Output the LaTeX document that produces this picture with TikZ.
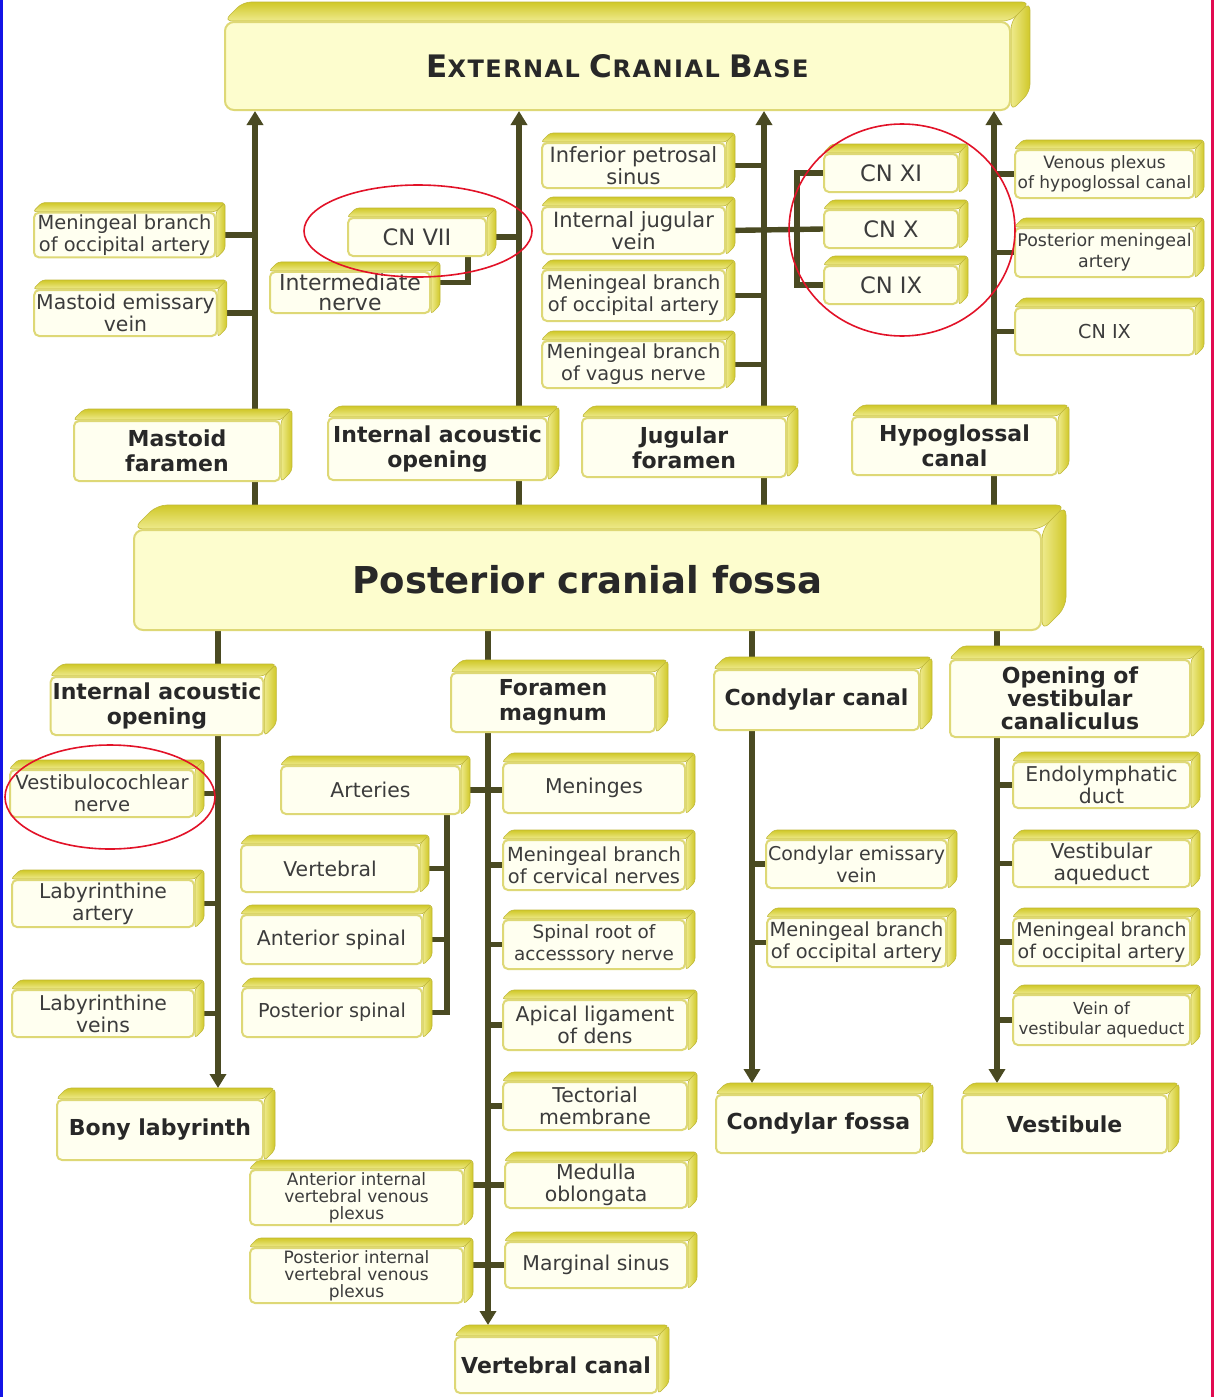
\documentclass[tikz,border=0pt]{standalone}
\usepackage{fontspec}
\setmainfont{DejaVu Sans}
\usetikzlibrary{arrows.meta,calc,shapes.geometric}
\definecolor{yelD}{RGB}{208,200,40}
\definecolor{yelL}{RGB}{238,234,140}
\definecolor{yelB}{RGB}{222,216,118}
\definecolor{yelE}{RGB}{192,184,56}
\definecolor{frontc}{RGB}{255,255,240}
\definecolor{frontb}{RGB}{253,253,206}
\definecolor{linec}{RGB}{74,74,34}
\definecolor{txt}{RGB}{60,60,60}
\definecolor{htxt}{RGB}{40,40,40}
\definecolor{ann}{RGB}{226,18,40}
\definecolor{edgeL}{RGB}{20,20,230}
\definecolor{edgeR}{RGB}{225,10,80}
\pgfdeclarelayer{back}\pgfdeclarelayer{bg}\pgfdeclarelayer{ext}\pgfdeclarelayer{fg}
\pgfsetlayers{back,bg,ext,main,fg}
\newcommand\fn{\fontsize{10.2}{11}\selectfont}
\newcommand\fmb{\fontsize{9.7}{11}\selectfont}
\newcommand\fsm{\fontsize{8.5}{10}\selectfont}
\newcommand\fcn{\fontsize{11.3}{13}\selectfont}
\newcommand\bigC[1]{{\fontsize{15.5}{18}\selectfont #1}}
\newcommand\smC[1]{{\fontsize{12}{14}\selectfont #1}}
\newcommand\extr[3]{%
  \shadedraw[top color=yelD, bottom color=yelL, draw=yelE, line width=0.3pt, rounded corners=#3]
    (#1.north west) -- ++(#2,-#2) -- ($(#1.north east)+(#2,-#2)$) -- (#1.north east) -- cycle;
  \shadedraw[left color=yelL, right color=yelD, draw=yelE, line width=0.3pt, rounded corners=#3]
    (#1.north east) -- ($(#1.north east)+(#2,-#2)$) -- ($(#1.south east)+(#2,-#2)$) -- (#1.south east) -- cycle;
}
\tikzset{
  fbox/.style={draw=yelB, line width=1pt, fill=frontc, rounded corners=2.5pt, inner sep=1pt,
    align=center, text=txt, font=\fn},
  hbox/.style={fbox, text=htxt, font=\bfseries\fontsize{11}{12.5}\selectfont},
  bigbox/.style={hbox, fill=frontb, rounded corners=4.5pt},
  bw/.style={minimum width=#1*0.5pt},
  bh/.style={minimum height=#1*0.5pt},
  conn/.style={draw=linec, line width=2.7pt},
  arr/.style={conn, -{Triangle[length=7pt,width=8pt]}},
  annell/.style={ellipse, draw=ann, line width=0.8pt, inner sep=0pt}
}
\begin{document}
\begin{tikzpicture}[x=0.5pt,y=-0.5pt]
\useasboundingbox (0,0) rectangle (1217,1397);
\begin{pgfonlayer}{back}
  \fill[white] (0,0) rectangle (1217,1397);
  \fill[edgeL] (0,0) rectangle (3,1397);
  \fill[edgeR] (1211,0) rectangle (1214,1397);
\end{pgfonlayer}

% main boxes
\node[bigbox, bw=785, bh=88] (ecb) at (617.5,66)
  {\addfontfeatures{LetterSpace=6}\bigC{E}\smC{XTERNAL}\hspace{0.45em}\bigC{C}\smC{RANIAL}\hspace{0.45em}\bigC{B}\smC{ASE}};
\node[bigbox, bw=907, bh=100, font=\bfseries\fontsize{18.5}{22}\selectfont] (pcf) at (587.5,580) {Posterior cranial fossa};

\node[hbox, bw=206, bh=60] (mf) at (177,451) {Mastoid\\faramen};
\node[hbox, bw=219, bh=62] (iao) at (437.5,449) {Internal acoustic\\opening};
\node[hbox, bw=204, bh=59] (jf) at (684,447.5) {Jugular\\foramen};
\node[hbox, bw=205, bh=58] (hc) at (954.5,446) {Hypoglossal\\canal};

% upper labels
\node[fbox, bw=181, bh=44, font=\fmb] (mbo1) at (124.5,235) {Meningeal branch\\of occipital artery};
\node[fbox, bw=179, bh=46] (mev) at (125.5,313) {Mastoid emissary\\vein};
\node[fbox, bw=138, bh=38, font=\fcn] (cn7) at (417,237) {CN VII};
\node[fbox, bw=160, bh=41, font=\fontsize{11}{10}\selectfont] (intn) at (350,292.5) {Intermediate\\nerve};
\node[fbox, bw=183, bh=45, font=\fontsize{10.5}{11}\selectfont] (ips) at (633.5,165.5) {Inferior petrosal\\sinus};
\node[fbox, bw=183, bh=47, font=\fontsize{10.5}{11}\selectfont] (ijv) at (633.5,230.5) {Internal jugular\\vein};
\node[fbox, bw=183, bh=51, font=\fmb] (mbo2) at (633.5,295.5) {Meningeal branch\\of occipital artery};
\node[fbox, bw=183, bh=47, font=\fmb] (mbv) at (633.5,364.5) {Meningeal branch\\of vagus nerve};
\node[fbox, bw=134, bh=38, font=\fcn] (cn11) at (891,173) {CN XI};
\node[fbox, bw=134, bh=38, font=\fcn] (cn10) at (891,229) {CN X};
\node[fbox, bw=134, bh=38, font=\fcn] (cn9) at (891,285) {CN IX};
\node[fbox, bw=179, bh=48, font=\fsm] (vph) at (1104.5,174) {Venous plexus\\of hypoglossal canal};
\node[fbox, bw=179, bh=49, font=\fontsize{8.7}{10.5}\selectfont] (pma) at (1104.5,252.5) {Posterior meningeal\\artery};
\node[fbox, bw=179, bh=47, font=\fontsize{9.6}{11}\selectfont] (cn9b) at (1104.5,331.5) {CN IX};

% second row
\node[hbox, bw=204, bh=58] (iao2) at (157,706) {Internal acoustic\\opening};
\node[hbox, bw=204, bh=59] (fm) at (553,702.5) {Foramen\\magnum};
\node[hbox, bw=205, bh=60] (cc) at (816.5,700) {Condylar canal};
\node[hbox, bw=240, bh=77, font=\bfseries\fontsize{11}{11.5}\selectfont] (ovc) at (1070,698.5) {Opening of\\vestibular\\canaliculus};

% bottom row
\node[hbox, bw=206, bh=60] (bl) at (160,1130) {Bony labyrinth};
\node[hbox, bw=202, bh=56] (vc) at (556,1365) {Vertebral canal};
\node[hbox, bw=205, bh=58] (cf) at (818.5,1124) {Condylar fossa};
\node[hbox, bw=205, bh=58] (vest) at (1064.5,1124) {Vestibule};

% lower labels
\node[fbox, bw=184, bh=47, font=\fontsize{9.8}{11}\selectfont] (vcn) at (102,793.5) {Vestibulocochlear\\nerve};
\node[fbox, bw=182, bh=47] (lart) at (103,903.5) {Labyrinthine\\artery};
\node[fbox, bw=182, bh=47] (lvein) at (103,1013.5) {Labyrinthine\\veins};
\node[fbox, bw=179, bh=48] (art) at (370.5,790) {Arteries};
\node[fbox, bw=178, bh=47] (vert) at (330,868.5) {Vertebral};
\node[fbox, bw=181, bh=49] (ants) at (331.5,939.5) {Anterior spinal};
\node[fbox, bw=180, bh=49, font=\fontsize{9.6}{11}\selectfont] (posts) at (332,1012.5) {Posterior spinal};
\node[fbox, bw=182, bh=50] (men) at (594,788) {Meninges};
\node[fbox, bw=182, bh=50, font=\fmb] (mbc) at (594,865) {Meningeal branch\\of cervical nerves};
\node[fbox, bw=182, bh=49, font=\fontsize{9.2}{11}\selectfont] (sra) at (594,944.5) {Spinal root of\\accesssory nerve};
\node[fbox, bw=184, bh=50] (ald) at (595,1025) {Apical ligament\\of dens};
\node[fbox, bw=184, bh=48] (tm) at (595,1106) {Tectorial\\membrane};
\node[fbox, bw=182, bh=46] (mo) at (596,1185) {Medulla\\oblongata};
\node[fbox, bw=182, bh=46] (ms) at (596,1265) {Marginal sinus};
\node[fbox, bw=213, bh=55, font=\fontsize{8.5}{8.6}\selectfont] (aivp) at (356.5,1197.5) {Anterior internal\\vertebral venous\\plexus};
\node[fbox, bw=213, bh=55, font=\fontsize{8.5}{8.6}\selectfont] (pivp) at (356.5,1275.5) {Posterior internal\\vertebral venous\\plexus};
\node[fbox, bw=179, bh=48, font=\fontsize{9.5}{11}\selectfont] (cev) at (856.5,864) {Condylar emissary\\vein};
\node[fbox, bw=179, bh=49, font=\fmb] (mbo3) at (856.5,942.5) {Meningeal branch\\of occipital artery};
\node[fbox, bw=177, bh=46] (ed) at (1101.5,785) {Endolymphatic\\duct};
\node[fbox, bw=177, bh=47] (va) at (1101.5,863.5) {Vestibular\\aqueduct};
\node[fbox, bw=177, bh=48, font=\fontsize{9.5}{11}\selectfont] (mbo4) at (1101.5,942) {Meningeal branch\\of occipital artery};
\node[fbox, bw=177, bh=50, font=\fontsize{8.3}{10}\selectfont] (vva) at (1101.5,1020) {Vein of\\vestibular aqueduct};

% red annotation ellipses
\begin{pgfonlayer}{fg}
\node[annell, minimum width=114pt, minimum height=46pt] (e1) at (418,231) {};
\node[annell, minimum width=113pt, minimum height=106pt] (e2) at (902,230) {};
\node[annell, minimum width=105pt, minimum height=52pt] (e3) at (110,797) {};
\end{pgfonlayer}

% helper x-positions of trunk lines
\coordinate (l1) at (255,0);
\coordinate (l2) at (519,0);
\coordinate (l3) at (764,0);
\coordinate (l4) at (994,0);
\coordinate (br) at (797,0);
\coordinate (k1) at (468,0);
\coordinate (l5) at (218,0);
\coordinate (l6) at (488,0);
\coordinate (a1) at (447,0);
\coordinate (l7) at (752,0);
\coordinate (l8) at (997,0);

% 3D extrusions
\begin{pgfonlayer}{ext}
\foreach \n/\d/\r in {ecb/19/4pt,pcf/24/5pt,mf/11/2pt,iao/11/2pt,jf/11/2pt,hc/11/2pt,iao2/12/2pt,fm/12/2pt,cc/12/2pt,ovc/13/2pt,bl/11/2pt,vc/11/2pt,cf/11/2pt,vest/11/2pt}{\extr{\n}{\d}{\r}}
\foreach \n in {mbo1,mev,cn7,intn,ips,ijv,mbo2,mbv,cn11,cn10,cn9,vph,pma,cn9b,
  vcn,lart,lvein,art,vert,ants,posts,men,mbc,sra,ald,tm,mo,ms,aivp,pivp,
  cev,mbo3,ed,va,mbo4,vva}{\extr{\n}{9}{1.5pt}}
\end{pgfonlayer}

% connectors
\begin{pgfonlayer}{bg}
% up to external cranial base
\draw[arr] (l1 |- pcf.north) -- (l1 |- ecb.south);
\draw[arr] (l2 |- pcf.north) -- (l2 |- ecb.south);
\draw[arr] (l3 |- pcf.north) -- (l3 |- ecb.south);
\draw[arr] (l4 |- pcf.north) -- (l4 |- ecb.south);
% branches, upper part
\draw[conn] (mbo1.east) -- (l1 |- mbo1.east);
\draw[conn] (mev.east) -- (l1 |- mev.east);
\draw[conn] (cn7.east) -- (l2 |- cn7.east);
\draw[conn] (k1 |- cn7.south) |- ([yshift=5pt]intn.east);
\draw[conn] (ips.east) -- (l3 |- ips.east);
\draw[conn] (ijv.east) -- (cn10.west);
\draw[conn] (mbo2.east) -- (l3 |- mbo2.east);
\draw[conn] (mbv.east) -- (l3 |- mbv.east);
\draw[conn] (cn11.west) -- (br |- cn11.west) -- (br |- cn9.west) -- (cn9.west);
\draw[conn] (l4 |- vph.west) -- (vph.west);
\draw[conn] (l4 |- pma.west) -- (pma.west);
\draw[conn] (l4 |- cn9b.west) -- (cn9b.west);
% down from posterior cranial fossa
\draw[arr] (l5 |- pcf.south) -- ($(l5 |- bl.north)+(0,-11)$);
\draw[arr] (l6 |- pcf.south) -- ($(l6 |- vc.north)+(0,-11)$);
\draw[arr] (l7 |- pcf.south) -- ($(l7 |- cf.north)+(0,-11)$);
\draw[arr] (l8 |- pcf.south) -- ($(l8 |- vest.north)+(0,-11)$);
% branches, lower part
\draw[conn] (vcn.east) -- (l5 |- vcn.east);
\draw[conn] (lart.east) -- (l5 |- lart.east);
\draw[conn] (lvein.east) -- (l5 |- lvein.east);
\draw[conn] (art.east) -- (art.east -| men.west);
\draw[conn] (a1 |- art.south) |- (posts.east);
\draw[conn] (vert.east) -- (a1 |- vert.east);
\draw[conn] (ants.east) -- (a1 |- ants.east);
\draw[conn] (l6 |- mbc.west) -- (mbc.west);
\draw[conn] (l6 |- sra.west) -- (sra.west);
\draw[conn] (l6 |- ald.west) -- (ald.west);
\draw[conn] (l6 |- tm.west) -- (tm.west);
\draw[conn] (mo.west) -- (mo.west -| aivp.east);
\draw[conn] (ms.west) -- (ms.west -| pivp.east);
\draw[conn] (l7 |- cev.west) -- (cev.west);
\draw[conn] (l7 |- mbo3.west) -- (mbo3.west);
\draw[conn] (l8 |- ed.west) -- (ed.west);
\draw[conn] (l8 |- va.west) -- (va.west);
\draw[conn] (l8 |- mbo4.west) -- (mbo4.west);
\draw[conn] (l8 |- vva.west) -- (vva.west);
\end{pgfonlayer}
\end{tikzpicture}
\end{document}
